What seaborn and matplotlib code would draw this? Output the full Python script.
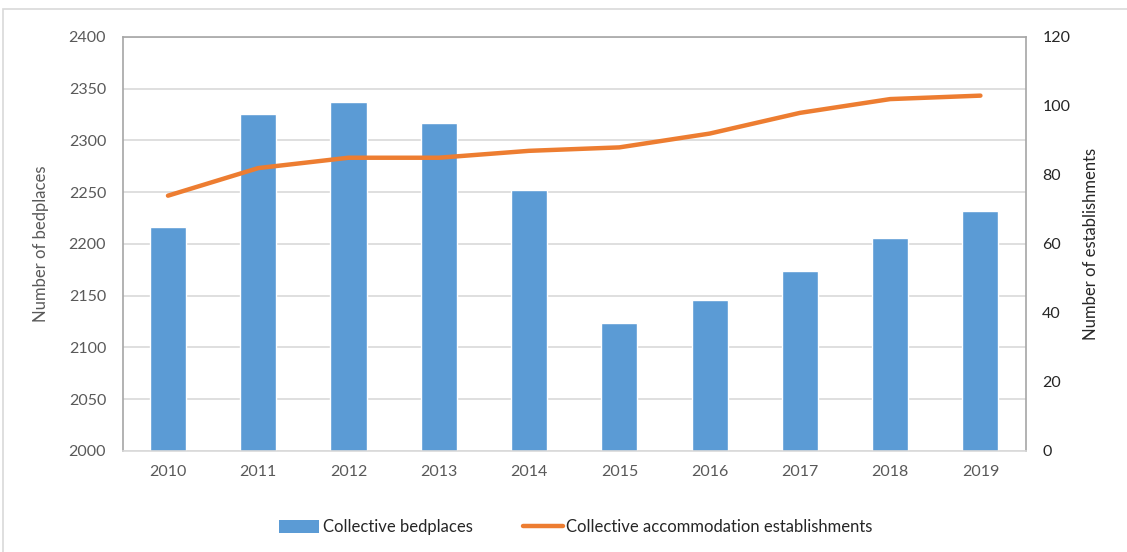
import matplotlib
matplotlib.use("Agg")
import matplotlib.pyplot as plt
from matplotlib.patches import Rectangle, Patch
from matplotlib.lines import Line2D
import numpy as np
import pandas as pd
import seaborn as sns

years = ["2010", "2011", "2012", "2013", "2014", "2015", "2016", "2017", "2018", "2019"]
bedplaces = [2216, 2326, 2337, 2317, 2252, 2124, 2146, 2174, 2206, 2232]
establishments = [74, 82, 85, 85, 87, 88, 92, 98, 102, 103]

BAR_COLOR = "#5B9BD5"
LINE_COLOR = "#ED7D31"
GRID_COLOR = "#D9D9D9"
AXIS_COLOR = "#A6A6A6"
TEXT_GRAY = "#595959"
TEXT_DARK = "#262626"

sns.set_theme(style="white")
plt.rcParams["font.family"] = ["Lato", "DejaVu Sans"]

fig = plt.figure(figsize=(11.27, 5.52), dpi=100)
ax = fig.add_axes([0.109, 0.183, 0.801, 0.750])

df = pd.DataFrame({"year": years, "bedplaces": bedplaces})
sns.barplot(data=df, x="year", y="bedplaces", color=BAR_COLOR, width=0.4,
            saturation=1, ax=ax, zorder=2)
ax.set_ylim(2000, 2400)
ax.set_yticks(np.arange(2000, 2401, 50))
ax.set_xlim(-0.5, len(years) - 0.5)
ax.grid(axis="y", color=GRID_COLOR, linewidth=1.2, zorder=0)
ax.set_axisbelow(True)
ax.set_xlabel("")
ax.set_ylabel("Number of bedplaces", fontsize=12, color=TEXT_GRAY, labelpad=14)
ax.tick_params(axis="y", length=0, labelsize=11.5, labelcolor=TEXT_GRAY, pad=12)
ax.tick_params(axis="x", which="major", length=0, labelsize=11.5, labelcolor=TEXT_GRAY, pad=10)
ax.set_xticks(np.arange(-0.5, len(years), 1.0), minor=True)
ax.tick_params(axis="x", which="minor", length=5, width=1, color=GRID_COLOR, direction="out")
for side in ["left", "right", "top"]:
    ax.spines[side].set_color(AXIS_COLOR)
    ax.spines[side].set_linewidth(1.2)
ax.spines["bottom"].set_color(GRID_COLOR)
ax.spines["bottom"].set_linewidth(1.2)

ax2 = ax.twinx()
sns.lineplot(x=np.arange(len(years)), y=establishments, color=LINE_COLOR,
             linewidth=3.2, ax=ax2, zorder=3, solid_capstyle="round")
ax2.set_ylim(0, 120)
ax2.set_yticks(np.arange(0, 121, 20))
ax2.set_xlim(-0.5, len(years) - 0.5)
ax2.set_ylabel("Number of establishments", fontsize=12, color=TEXT_DARK, labelpad=9)
ax2.tick_params(axis="y", length=0, labelsize=11.5, labelcolor=TEXT_DARK, pad=12)
for side in ["left", "right", "top", "bottom"]:
    ax2.spines[side].set_visible(False)

handles = [
    Patch(facecolor=BAR_COLOR, edgecolor="none"),
    Line2D([0], [0], color=LINE_COLOR, linewidth=3.2, solid_capstyle="round"),
]
fig.legend(handles, ["Collective bedplaces", "Collective accommodation establishments"],
           loc="center", bbox_to_anchor=(0.511, 0.045), ncol=2, frameon=False,
           fontsize=12, labelcolor=TEXT_DARK, handlelength=2.4, handleheight=0.85,
           handletextpad=0.2, columnspacing=3.0)

fig.patches.append(Rectangle((0.003, -0.01), 1.0, 0.994, transform=fig.transFigure,
                             fill=False, edgecolor=GRID_COLOR, linewidth=1.2))

fig.savefig("out.png", dpi=100)
